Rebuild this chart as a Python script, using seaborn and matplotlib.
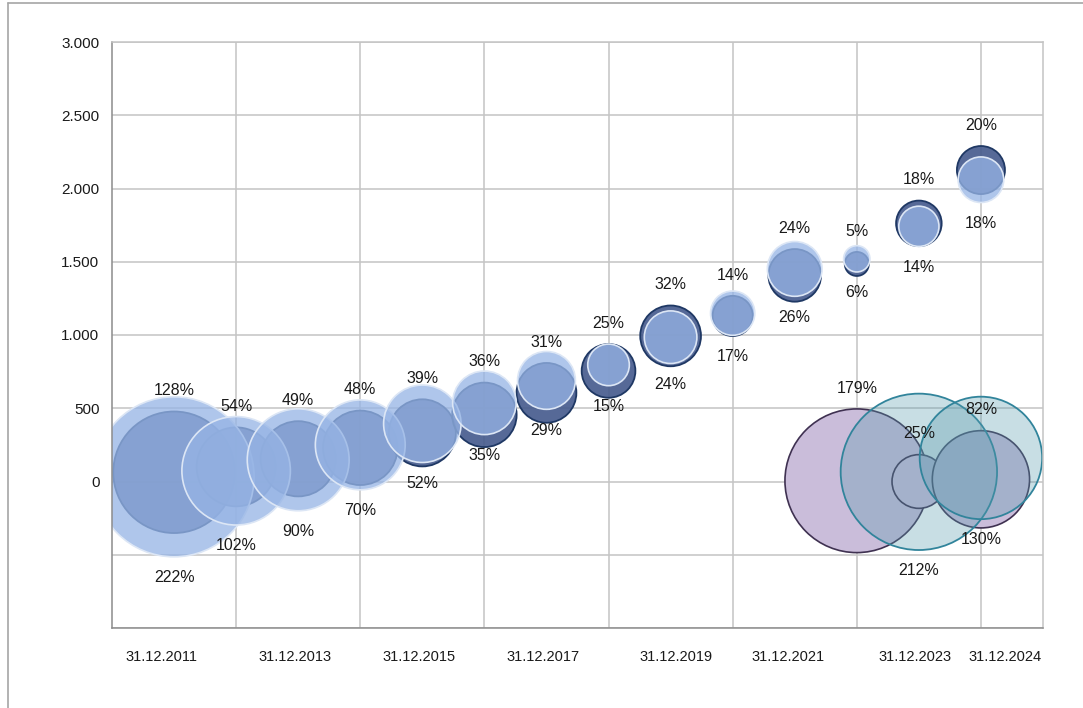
import numpy as np
import pandas as pd
import matplotlib
matplotlib.use("Agg")
import matplotlib.pyplot as plt
from matplotlib.lines import Line2D
from matplotlib.colors import to_rgba
import seaborn as sns

# ---------------- data ----------------
years = [2011, 2012, 2013, 2014, 2015, 2016, 2017, 2018, 2019, 2020, 2021, 2022, 2023, 2024]
dark_values = [63, 100, 155, 230, 332, 455, 605, 755, 994, 1130, 1407, 1485, 1762, 2126]
dark_pct = [128, 54, 49, 48, 39, 36, 31, 25, 32, 14, 24, 5, 18, 20]
light_values = [32, 73, 148, 250, 394, 537, 690, 796, 985, 1149, 1451, 1520, 1742, 2060]
light_pct = [222, 102, 90, 70, 52, 35, 29, 15, 24, 17, 26, 6, 14, 18]
purple_years = [2022, 2023, 2024]
purple_values = [5, 0, 15]
purple_pct = [179, 25, 82]
teal_years = [2023, 2024]
teal_values = [66, 161]
teal_pct = [212, 130]

x_tick_labels = ["31.12.2011", "31.12.2013", "31.12.2015", "31.12.2017",
                 "31.12.2019", "31.12.2021", "31.12.2023", "31.12.2024"]
y_ticks = [-1000, -500, 0, 500, 1000, 1500, 2000, 2500, 3000]

# ---------------- style ----------------
sns.set_style("white")
plt.rcParams["font.family"] = ["Liberation Sans", "DejaVu Sans"]

W, H = 1083, 708
fig = plt.figure(figsize=(W / 100, H / 100), dpi=100)
ax = fig.add_axes([112 / W, 1 - 628 / H, (1043 - 112) / W, (628 - 42) / H])

PMAX = 222
SMAX = 59.8 * PMAX  # area in pt^2 for the largest bubble


def bubbles(xs, ys, ps, face, alpha, edge, lw, above):
    df = pd.DataFrame({"x": xs, "y": ys, "p": ps})
    sns.scatterplot(data=df, x="x", y="y", size="p", sizes=(0, SMAX),
                    size_norm=(0, PMAX), color=face,
                    edgecolor=edge, linewidth=lw, legend=False, ax=ax)
    coll = ax.collections[-1]
    coll.set_alpha(None)
    coll.set_facecolor(to_rgba(face, alpha))
    coll.set_edgecolor(to_rgba(edge, 1.0))
    for x, y, p in zip(xs, ys, ps):
        rad = np.sqrt(SMAX * p / PMAX) / 2
        off = rad + 15
        ax.annotate(f"{p}%", (x, y), xytext=(0, off if above else -off),
                    textcoords="offset points", ha="center", va="center",
                    fontsize=11.5, color="#1a1a1a", zorder=10,
                    annotation_clip=False)


bubbles(years, dark_values, dark_pct, "#44598c", 0.9, "#1f3864", 1.3, True)
bubbles(years, light_values, light_pct, "#96b4e5", 0.76, "#dce6f5", 1.2, False)
bubbles(purple_years, purple_values, purple_pct, "#cabdda", 1.0, "#3f3151", 1.2, True)
bubbles(teal_years, teal_values, teal_pct, "#589bad", 0.33, "#31849b", 1.3, False)

# ---------------- axes ----------------
ax.set_xlim(2010, 2025)
ax.set_ylim(-1000, 3000)
ax.set_yticks(y_ticks)
ax.set_yticklabels(["" if v < 0 else f"{v:,}".replace(",", ".") for v in y_ticks])
ax.set_xticks([2010.79, 2012.95, 2014.95, 2016.94, 2019.09, 2020.89, 2022.94, 2024.39])
ax.set_xticklabels(x_tick_labels, family=["Liberation Sans Narrow", "Liberation Sans"],
                   fontsize=10.5, color="#1a1a1a")
ax.set_xticks(list(range(2012, 2025, 2)), minor=True)
ax.set_xlabel("")
ax.set_ylabel("")

grid_c = "#c4c4c4"
ax.set_axisbelow(True)
ax.yaxis.grid(True, color=grid_c, lw=1.1)
ax.xaxis.grid(True, which="minor", color=grid_c, lw=1.1)
ax.xaxis.grid(False, which="major")

ax.tick_params(axis="x", which="both", length=0, pad=16)
ax.tick_params(axis="y", length=4, width=1, color="#8c8c8c", pad=5,
               labelsize=11, labelcolor="#1a1a1a")

for s in ["left", "bottom"]:
    ax.spines[s].set_color("#8c8c8c")
    ax.spines[s].set_linewidth(1.1)
for s in ["right", "top"]:
    ax.spines[s].set_color(grid_c)
    ax.spines[s].set_linewidth(1.1)

# outer frame lines
fig.add_artist(Line2D([8 / W, 8 / W], [0, 1 - 3 / H], transform=fig.transFigure,
                      color="#a6a6a6", lw=1.2))
fig.add_artist(Line2D([8 / W, 1], [1 - 3 / H, 1 - 3 / H], transform=fig.transFigure,
                      color="#a6a6a6", lw=1.2))

fig.savefig("out.png", dpi=100)
